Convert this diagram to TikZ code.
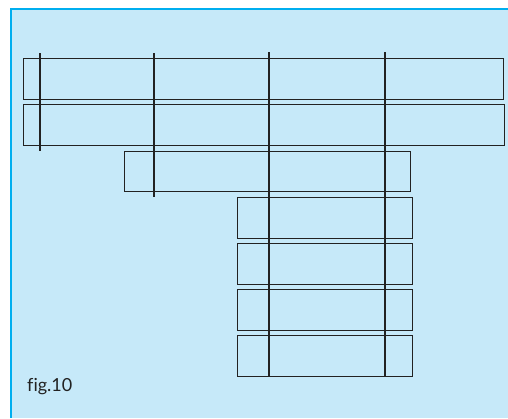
\documentclass[tikz,border=0pt]{standalone}
\usepackage{fontspec}
\setmainfont[Ligatures=NoCommon]{Lato}
\usetikzlibrary{positioning}
\definecolor{panelblue}{HTML}{C6E9F9}
\definecolor{edgeblue}{HTML}{00AEEF}
\definecolor{inkgray}{HTML}{222222}

\begin{document}
\begin{tikzpicture}[x=1pt, y=-1pt,
            slab/.style={draw=inkgray, line width=1pt},
            rod/.style={draw=inkgray, line width=2pt},
            caption/.style={anchor=base west, inner sep=0pt, text=inkgray,
                            font=\fontsize{18}{21}\selectfont}]

            \useasboundingbox (0,0) rectangle (508,418);
            \fill[white] (0,0) rectangle (508,418);
            \fill[panelblue] (11,9) rectangle (508,418);
            \draw[edgeblue, line width=2.5pt] (11,418) -- (11,9) -- (508,9);

            % wide slabs
            \draw[slab] (23,58) rectangle (503,99);
            \draw[slab] (23,104) rectangle (504,145);
            \draw[slab] (124,151) rectangle (410,191);
            % stacked slabs
            \foreach \t in {197,243,289,335}
                \draw[slab] (237,\t) rectangle (412,\t+41);

            % rods
            \coordinate (p1) at (40,53);  \coordinate (q1) at (40,151);
            \coordinate (p2) at (154,53); \coordinate (q2) at (154,197);
            \coordinate (p3) at (269,52); \coordinate (q3) at (269,377);
            \coordinate (p4) at (385,52); \coordinate (q4) at (385,377);
            \foreach \i in {1,...,4}
                \draw[rod] (p\i) -- (q\i);

            \node[caption] (fig) at (27,391) {fig.10};
\end{tikzpicture}
\end{document}
